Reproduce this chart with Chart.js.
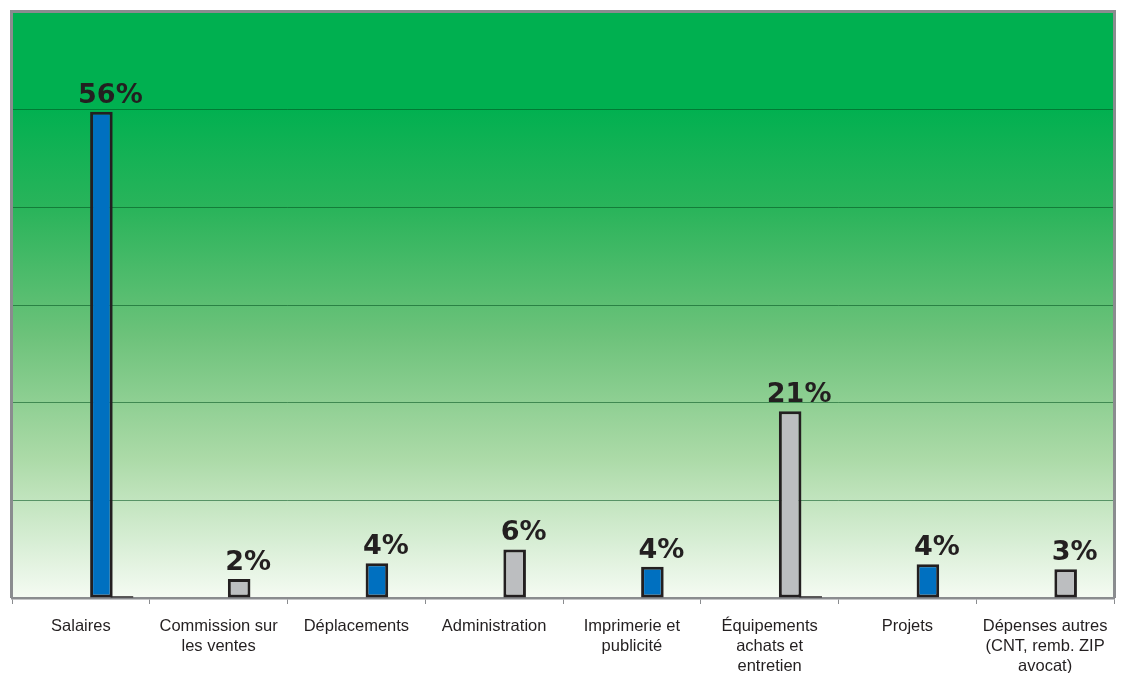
<!DOCTYPE html>
<html>
<head>
<meta charset="utf-8">
<script src="https://cdn.jsdelivr.net/npm/chart.js@4.4.1/dist/chart.umd.min.js"></script>
<style>
  html, body { margin: 0; padding: 0; background: #ffffff; }
  #wrap { width: 1135px; height: 673px; position: relative; }
</style>
</head>
<body>
<div id="wrap"><canvas id="c" width="1135" height="673"></canvas></div>
<script>
// ---- Data ----
const categories = [
  ["Salaires"],
  ["Commission sur", "les ventes"],
  ["Déplacements"],
  ["Administration"],
  ["Imprimerie et", "publicité"],
  ["Équipements", "achats et", "entretien"],
  ["Projets"],
  ["Dépenses autres", "(CNT, remb. ZIP", "avocat)"]
];
const shares = [56.0, 2.2, 4.0, 5.6, 3.6, 21.5, 3.9, 3.3];
const shareLabels = ["56%", "2%", "4%", "6%", "4%", "21%", "4%", "3%"];
const secondSeries = [0.2, null, null, null, null, 0.2, null, null];
const emptySeries = [null, null, null, null, null, null, null, null];
const yMax = 67.5;
const yStep = 11.25;

const BLUE = "#0070c0";
const GREY = "#bcbec0";
const INK = "#231f20";
const barColors = shares.map((v, i) => (i % 2 === 0 ? BLUE : GREY));

const bgPlugin = {
  id: "bg",
  beforeDraw(chart) {
    const { ctx, chartArea: a } = chart;
    ctx.save();
    ctx.fillStyle = "#ffffff";
    ctx.fillRect(0, 0, chart.width, chart.height);
    const g = ctx.createLinearGradient(0, a.top, 0, a.bottom);
    g.addColorStop(0.0, "#00b050");
    g.addColorStop(0.16, "#00b050");
    g.addColorStop(0.34, "#2bb45b");
    g.addColorStop(0.55, "#6cc27a");
    g.addColorStop(0.76, "#abdaa7");
    g.addColorStop(1.0, "#f5fbf3");
    ctx.fillStyle = g;
    ctx.fillRect(a.left, a.top, a.right - a.left, a.bottom - a.top);
    ctx.restore();
  },
  afterDraw(chart) {
    const { ctx, chartArea: a } = chart;
    ctx.save();
    ctx.strokeStyle = "#8a8c8f";
    ctx.lineWidth = 3;
    ctx.beginPath();
    ctx.moveTo(a.left - 0.5, a.bottom);
    ctx.lineTo(a.left - 0.5, a.top - 0.5);
    ctx.lineTo(a.right + 0.5, a.top - 0.5);
    ctx.lineTo(a.right + 0.5, a.bottom);
    ctx.stroke();
    // value labels
    const meta = chart.getDatasetMeta(3);
    ctx.fillStyle = INK;
    ctx.font = "bold 27px 'DejaVu Sans', sans-serif";
    ctx.textAlign = "center";
    ctx.textBaseline = "alphabetic";
    meta.data.forEach((bar, i) => {
      ctx.fillText(shareLabels[i], bar.x + 9, bar.y - 9);
    });
    ctx.restore();
  }
};

new Chart(document.getElementById("c"), {
  type: "bar",
  data: {
    labels: categories,
    datasets: [
      { data: emptySeries },
      { data: emptySeries },
      { data: emptySeries },
      {
        data: shares,
        backgroundColor: barColors,
        borderColor: INK,
        borderWidth: 3,
        borderSkipped: false
      },
      {
        data: secondSeries,
        backgroundColor: INK,
        borderWidth: 0
      }
    ]
  },
  options: {
    responsive: false,
    animation: false,
    devicePixelRatio: 1,
    layout: { padding: { left: 12, top: 12, right: 21, bottom: 0 } },
    categoryPercentage: 0.745,
    barPercentage: 1.1,
    plugins: {
      legend: { display: false },
      tooltip: { enabled: false },
      title: { display: false }
    },
    scales: {
      x: {
        grid: {
          display: true,
          drawOnChartArea: false,
          drawTicks: true,
          tickLength: 6,
          color: "#8a8c8f",
          lineWidth: 1
        },
        border: { display: true, color: "#8a8c8f", width: 2.5 },
        ticks: {
          color: INK,
          font: { family: "'Liberation Sans', Arial, sans-serif", size: 16.5, lineHeight: "20px" },
          padding: 12,
          maxRotation: 0,
          minRotation: 0,
          autoSkip: false
        },
        afterFit(scale) { scale.height = 75; }
      },
      y: {
        min: 0,
        max: yMax,
        ticks: { display: false, stepSize: yStep },
        grid: { color: "rgba(0,80,30,0.55)", lineWidth: 1, drawTicks: false },
        border: { display: false },
        afterFit(scale) { scale.width = 0; }
      }
    }
  },
  plugins: [bgPlugin]
});
</script>
</body>
</html>
